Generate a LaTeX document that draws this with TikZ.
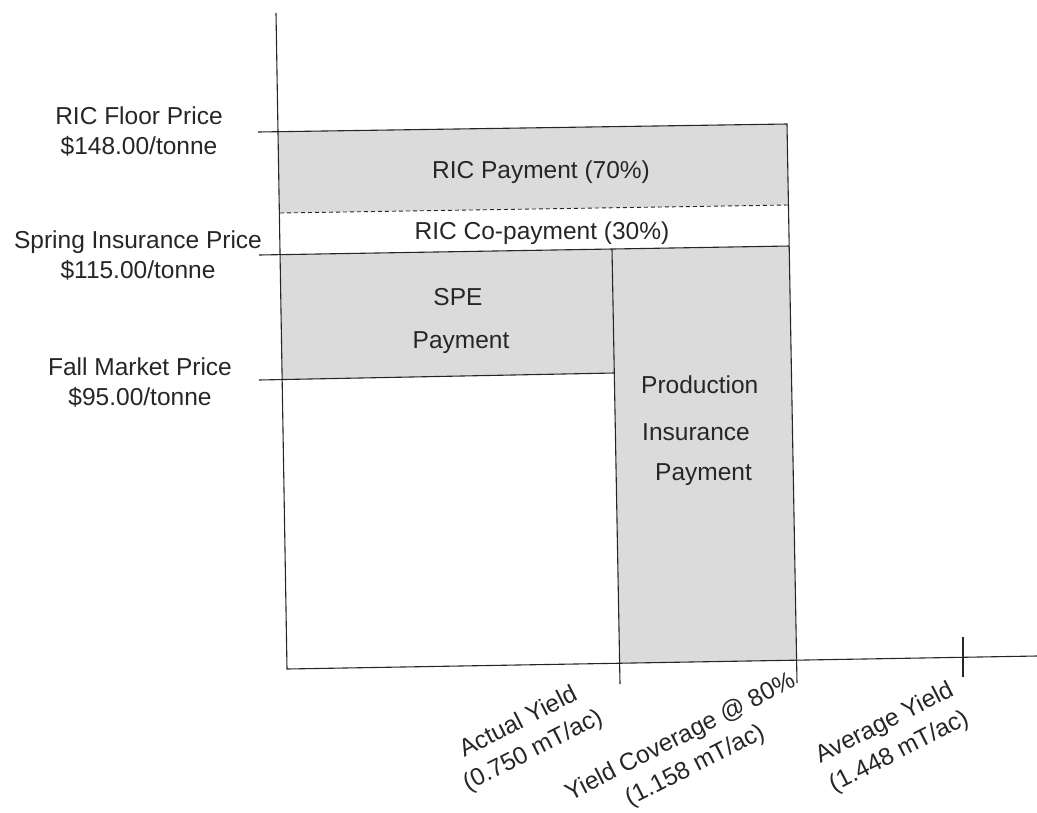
\documentclass[tikz,border=0pt]{standalone}
\usepackage{fontspec}
\setmainfont{Liberation Sans}
\begin{document}
\begin{tikzpicture}[x=1pt,y=-1pt,
  lbl/.style={font=\fontsize{24.5}{30}\selectfont, inner sep=0pt, align=center, text=black!85},
  rlbl/.style={lbl, font=\fontsize{24.5}{32}\selectfont, rotate=27},
  ln/.style={line width=1.1pt, draw=black!85},
  dln/.style={ln, line width=0.9pt, dash pattern=on 4pt off 3pt},
  shade/.style={fill=black!14}]
\useasboundingbox (0,0) rectangle (1037,812);
% key points
\coordinate (axT) at (276,13);
\coordinate (axO) at (287,669);
\coordinate (axE) at (1037,656);
\coordinate (topL) at (258,132);
\coordinate (topA) at (278.2,131.7);
\coordinate (topR) at (787,124);
\coordinate (dashA) at (280,213);
\coordinate (dashR) at (788.4,205);
\coordinate (sprL) at (259,255);
\coordinate (sprA) at (280,254.7);
\coordinate (sprM) at (612,249);
\coordinate (sprR) at (789.2,246);
\coordinate (fallL) at (259,380);
\coordinate (fallA) at (282.2,379.6);
\coordinate (fallM) at (614.3,373);
\coordinate (midX) at (619.6,663.2);
\coordinate (midB) at (620,684);
\coordinate (rgtX) at (796.6,660.2);
\coordinate (rgtB) at (797,683);
\coordinate (tickT) at (963,637);
\coordinate (tickB) at (963,677);
% shaded areas
\fill[shade] (topA) -- (topR) -- (dashR) -- (dashA) -- cycle;
\fill[shade] (sprA) -- (sprM) -- (fallM) -- (fallA) -- cycle;
\fill[shade] (sprM) -- (sprR) -- (rgtX) -- (midX) -- cycle;
% lines
\draw[ln] (axT) -- (axO) -- (axE);
\draw[ln] (topL) -- (topR) -- (rgtB);
\draw[dln] (dashA) -- (dashR);
\draw[ln] (sprL) -- (sprR);
\draw[ln] (sprM) -- (midB);
\draw[ln] (fallL) -- (fallM);
\draw[ln] (tickT) -- (tickB);
% left labels
\node[lbl] (ricfloor) at (139,131) {RIC Floor Price\\\$148.00/tonne};
\node[lbl] (spring) at (138,255) {Spring Insurance Price\\\$115.00/tonne};
\node[lbl] (fall) at (140,382) {Fall Market Price\\\$95.00/tonne};
% area labels
\node[lbl] (ricpay) at (541,172) {RIC Payment (70\%)};
\node[lbl] (riccop) at (542,233) {RIC Co-payment (30\%)};
\node[lbl] (spe1) at (458,297) {SPE};
\node[lbl] (spe2) at (461,343) {Payment};
\node[lbl, anchor=west] (pi1) at (641,385) {Production};
\node[lbl, anchor=west] (pi2) at (642,432) {Insurance};
\node[lbl, anchor=west] (pi3) at (655,475) {Payment};
% axis labels
\node[rlbl] (actual) at (526,737) {Actual Yield\\(0.750 mT/ac)};
\node[rlbl] (cover) at (688,752) {Yield Coverage @ 80\%\\(1.158 mT/ac)};
\node[rlbl] (avg) at (892,738) {Average Yield\\(1.448 mT/ac)};
\end{tikzpicture}
\end{document}
